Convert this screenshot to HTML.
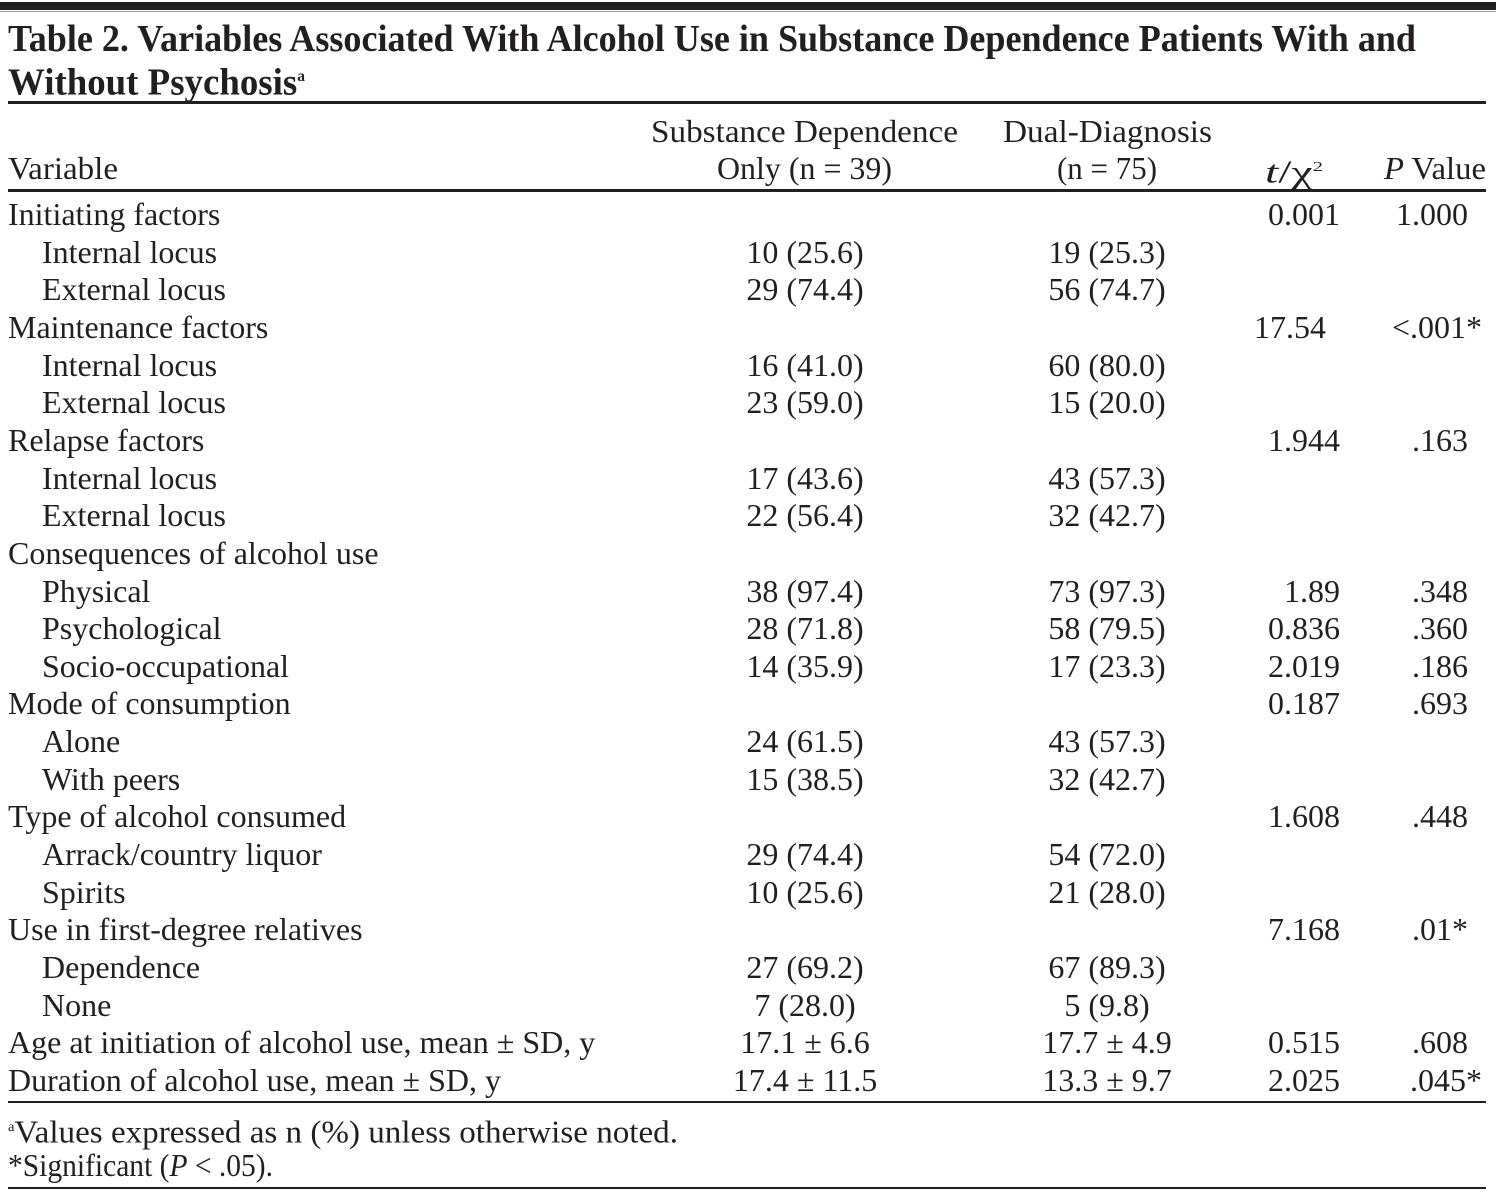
<!DOCTYPE html>
<html><head><meta charset="utf-8">
<style>
html,body{margin:0;padding:0;background:#fff;}
body{width:1496px;height:1194px;position:relative;overflow:hidden;font-family:"Liberation Serif",serif;color:#231f20;}
.t{position:absolute;white-space:nowrap;font-size:32px;line-height:34px;transform-origin:0 50%;}
.rule{position:absolute;left:8px;width:1478px;background:#231f20;}
</style></head><body>
<div class="rule" style="top:2px;height:8px;left:0;width:1496px"></div>
<div class="rule" style="top:11px;height:1px;left:0;width:1496px;background:#999"></div>
<div class="t" id="title1" style="left:8px;top:18px;font-weight:bold;font-size:38px;line-height:42px" data-w="1408">Table 2. Variables Associated With Alcohol Use in Substance Dependence Patients With and</div>
<div class="t" id="title2" style="left:8px;top:56px;font-weight:bold;font-size:38px;line-height:42px" data-w="297">Without Psychosis<sup style="font-size:16px">a</sup></div>
<div class="rule" style="top:101px;height:3px"></div>
<div class="t" style="left:8px;top:151px" data-w="110">Variable</div>
<div class="t" style="left:651px;top:114px" data-w="307">Substance Dependence</div>
<div class="t" style="left:717px;top:151px" data-w="175">Only (n = 39)</div>
<div class="t" style="left:1003px;top:114px" data-w="209">Dual-Diagnosis</div>
<div class="t" style="left:1057px;top:151px" data-w="100">(n = 75)</div>
<div class="t" style="left:1265px;top:151px" data-w="58"><i>t</i>/χ<sup style="font-size:14px">2</sup></div>
<div class="t" style="left:1384px;top:151px" data-w="102"><i>P</i> Value</div>
<div class="rule" style="top:189px;height:3px"></div>
<div id="rows"></div>
<div class="rule" style="top:1101px;height:2px"></div>
<div class="t" style="left:8px;top:1111px" data-w="670"><sup style="font-size:14px">a</sup>Values expressed as n (%) unless otherwise noted.</div>
<div class="t" style="left:8px;top:1148px" data-w="265">*Significant (<i>P</i> &lt; .05).</div>
<div class="rule" style="top:1187px;height:2px"></div>
<script>
const labels=["Initiating factors","Internal locus","External locus","Maintenance factors","Internal locus","External locus","Relapse factors","Internal locus","External locus","Consequences of alcohol use","Physical","Psychological","Socio-occupational","Mode of consumption","Alone","With peers","Type of alcohol consumed","Arrack/country liquor","Spirits","Use in first-degree relatives","Dependence","None","Age at initiation of alcohol use, mean ± SD, y","Duration of alcohol use, mean ± SD, y"];
const indent=[0,1,1,0,1,1,0,1,1,0,1,1,1,0,1,1,0,1,1,0,1,1,0,0];
const sdOnly=["","10 (25.6)","29 (74.4)","","16 (41.0)","23 (59.0)","","17 (43.6)","22 (56.4)","","38 (97.4)","28 (71.8)","14 (35.9)","","24 (61.5)","15 (38.5)","","29 (74.4)","10 (25.6)","","27 (69.2)","7 (28.0)","17.1 ± 6.6","17.4 ± 11.5"];
const dual=["","19 (25.3)","56 (74.7)","","60 (80.0)","15 (20.0)","","43 (57.3)","32 (42.7)","","73 (97.3)","58 (79.5)","17 (23.3)","","43 (57.3)","32 (42.7)","","54 (72.0)","21 (28.0)","","67 (89.3)","5 (9.8)","17.7 ± 4.9","13.3 ± 9.7"];
const tchi=["0.001","","","17.54","","","1.944","","","","1.89","0.836","2.019","0.187","","","1.608","","","7.168","","","0.515","2.025"];
const pval=["1.000","","",'<.001*',"","",".163","","","",".348",".360",".186",".693","","",".448","","",".01*","","",".608",".045*"];
const rows=document.getElementById('rows');
const y0=214, dy=37.65;
const sc=1.0;
function mk(txt,name,x,yc,align){
  const d=document.createElement('div');
  d.className='t';
  
  
  d.textContent=txt;
  d.style.top=(yc-17)+'px';
  rows.appendChild(d);
  const w=d.getBoundingClientRect().width*sc;
  let l=x;
  if(align==='c')l=x-w/2; else if(align==='r')l=x-w;
  d.style.left=l+'px';
  d.style.transform='scaleX('+sc+')';
}
labels.forEach((lab,i)=>{
  const yc=y0+i*dy;
  mk(lab,'row-label',indent[i]?42:8,yc,'l');
  if(sdOnly[i])mk(sdOnly[i],'sd-only-value',805,yc,'c');
  if(dual[i])mk(dual[i],'dual-diagnosis-value',1107,yc,'c');
  if(tchi[i])mk(tchi[i],'t-chi-value',tchi[i]==='17.54'?1326:1340,yc,'r');
  if(pval[i]){const r=(pval[i]==='<.001*'||pval[i]==='.045*')?1482:1468;mk(pval[i],'p-value',r,yc,'r');}
});
document.querySelectorAll('[data-w]').forEach(e=>{
  const w=e.getBoundingClientRect().width;
  e.style.transform='scaleX('+(parseFloat(e.dataset.w)/w)+')';
});
</script>
</body></html>
